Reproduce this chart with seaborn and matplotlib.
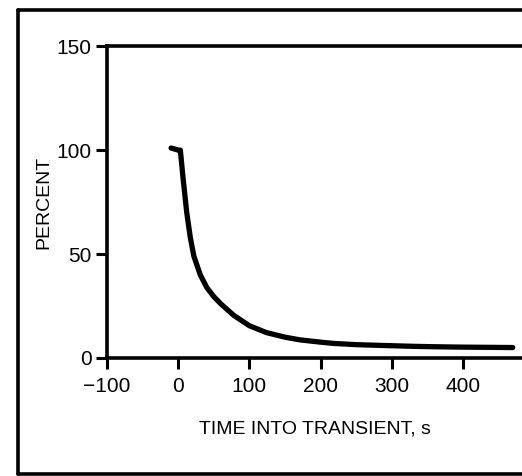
import matplotlib
matplotlib.use("Agg")
import matplotlib.pyplot as plt
from matplotlib.lines import Line2D
import seaborn as sns
import pandas as pd

# --- Data ---
time_s = [-10, 0, 3, 7, 12, 17, 22, 31, 40, 50, 60, 78, 100, 124, 150,
          171, 200, 218, 250, 288, 330, 358, 400, 440, 470]
percent = [101, 100, 100, 86, 70, 58, 49, 40, 34, 29.5, 26, 20.5, 15.5, 12.2, 10,
           8.7, 7.6, 7, 6.4, 6, 5.6, 5.4, 5.2, 5.1, 5.0]
x_ticks = [-100, 0, 100, 200, 300, 400]
y_ticks = [0, 50, 100, 150]

df = pd.DataFrame({"time": time_s, "percent": percent})

sns.set_style("ticks")
plt.rcParams['font.family'] = ['Liberation Sans', 'DejaVu Sans']
plt.rcParams['text.color'] = 'black'
plt.rcParams['axes.labelcolor'] = 'black'
plt.rcParams['xtick.color'] = 'black'
plt.rcParams['ytick.color'] = 'black'

fig = plt.figure(figsize=(5.22, 4.76), dpi=100)
ax = fig.add_axes([0.205, 0.248, 0.795, 0.655])

sns.lineplot(data=df, x="time", y="percent", sort=False, color="black",
             linewidth=3.8, ax=ax)

ax.set_xlim(-100, 483)
ax.set_ylim(0, 150)
ax.set_xticks(x_ticks)
ax.set_yticks(y_ticks)
ax.set_xticklabels([str(t).replace("-", "\u2212") for t in x_ticks])
ax.tick_params(axis="both", labelsize=15, width=2.2, length=8)
ax.tick_params(axis="x", pad=6)
ax.tick_params(axis="y", pad=3)
ax.set_xlabel("TIME INTO TRANSIENT, s", fontsize=14, labelpad=17)
ax.set_ylabel("PERCENT", fontsize=14, labelpad=3)

for side in ["left", "top", "bottom"]:
    ax.spines[side].set_linewidth(2.6)
    ax.spines[side].set_color("black")
ax.spines["right"].set_visible(False)

# --- outer frame of the scan (right side cut off) ---
frame = [([0.035, 1.0], [0.979, 0.979]),
         ([0.035, 0.035], [0.979, 0.004]),
         ([0.035, 1.0], [0.004, 0.004])]
for xs, ys in frame:
    fig.add_artist(Line2D(xs, ys, color="black", linewidth=2.6,
                          transform=fig.transFigure))

fig.savefig("out.png", dpi=100)
